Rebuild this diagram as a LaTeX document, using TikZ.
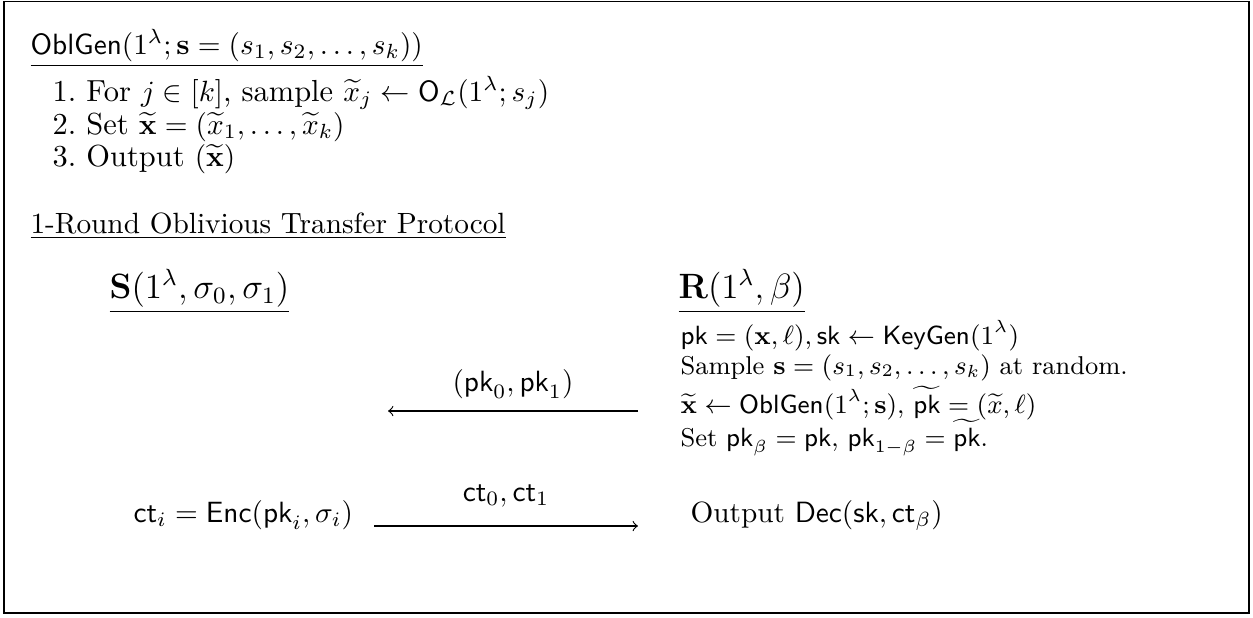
\documentclass[tikz,border=0pt]{standalone}
\usepackage{amsmath,amssymb}
\usetikzlibrary{positioning}
\tikzset{
  txt/.style={anchor=base west,inner sep=0pt},
  party/.style={txt,font=\large},
  lstep/.style={txt,font=\fontsize{10.4}{12.5}\selectfont},
  rstep/.style={txt,font=\fontsize{8.8}{10.5}\selectfont},
  msg/.style={->,thin},
}
\begin{document}
\begin{tikzpicture}[x=0.3414pt,y=-0.3414pt]
\useasboundingbox (0,0) rectangle (1253,617);
\draw[semithick] (4,1.5) rectangle (1249,613);
% the generator
\node[txt] (oblgen) at (30,54) {\underline{$\mathsf{OblGen}(1^\lambda;\mathbf{s}=(s_1,s_2,\ldots,s_k))$}};
\node[lstep] (step1) at (52,101) {1.\ For $j\in[k]$, sample $\widetilde{x}_j\leftarrow\mathsf{O}_{\mathcal{L}}(1^\lambda;s_j)$};
\node[lstep] (step2) at (52,134) {2.\ Set $\widetilde{\mathbf{x}}=(\widetilde{x}_1,\ldots,\widetilde{x}_k)$};
\node[lstep] (step3) at (52,166) {3.\ Output $(\widetilde{\mathbf{x}})$};
% the protocol
\node[txt] (proto) at (30,233) {\underline{1-Round Oblivious Transfer Protocol}};
\node[party] (sender) at (109,298) {\underline{$\mathbf{S}(1^\lambda,\sigma_0,\sigma_1)$}};
\node[party] (recv) at (678,298) {\underline{$\mathbf{R}(1^\lambda,\beta)$}};
\node[rstep] (r1) at (680,344) {$\mathsf{pk}=(\mathbf{x},\ell),\mathsf{sk}\leftarrow\mathsf{KeyGen}(1^\lambda)$};
\node[rstep] (r2) at (680,374) {Sample $\mathbf{s}=(s_1,s_2,\ldots,s_k)$ at random.};
\node[rstep] (r3) at (680,413) {$\widetilde{\mathbf{x}}\leftarrow\mathsf{OblGen}(1^\lambda;\mathbf{s})$, $\widetilde{\mathsf{pk}}=(\widetilde{x},\ell)$};
\node[rstep] (r4) at (680,446) {Set $\mathsf{pk}_\beta=\mathsf{pk}$, $\mathsf{pk}_{1-\beta}=\widetilde{\mathsf{pk}}$.};
\coordinate (m1r) at (638,411);
\coordinate (m1l) at (388,411);
\draw[msg] (m1r) -- node[above=0.6pt] (m1) {$(\mathsf{pk}_0,\mathsf{pk}_1)$} (m1l);
\node[txt] (enc) at (133,522) {$\mathsf{ct}_i=\mathsf{Enc}(\mathsf{pk}_i,\sigma_i)$};
\node[txt] (dec) at (690,522) {Output $\mathsf{Dec}(\mathsf{sk},\mathsf{ct}_\beta)$};
\coordinate (m2l) at (374,526);
\coordinate (m2r) at (638,526);
\draw[msg] (m2l) -- node[above=3pt] (m2) {$\mathsf{ct}_0,\mathsf{ct}_1$} (m2r);
\end{tikzpicture}
\end{document}
